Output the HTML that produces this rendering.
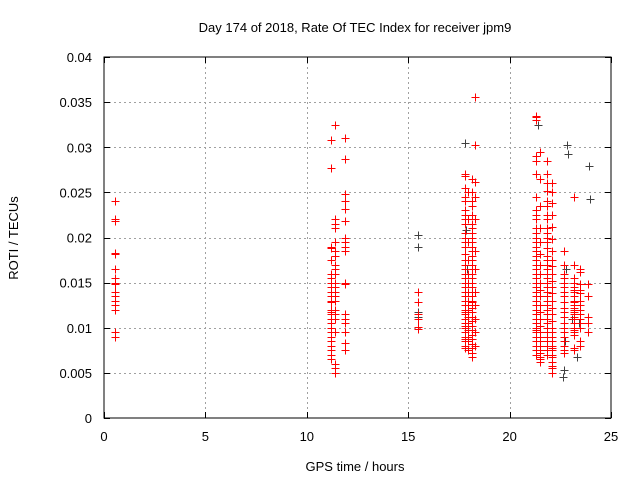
<!DOCTYPE html>
<html><head><meta charset="utf-8"><style>
body{margin:0;background:#fff;}
svg{display:block;font-family:"Liberation Sans",sans-serif;}
</style></head><body>
<svg id="chart" width="640" height="480">
<text x="355" y="32" text-anchor="middle" font-size="13">Day 174 of 2018, Rate Of TEC Index for receiver jpm9</text>
<text x="355" y="471" text-anchor="middle" font-size="13">GPS time / hours</text>
<text transform="translate(18,238) rotate(-90)" text-anchor="middle" font-size="13">ROTI / TECUs</text>
<g id="grid"></g><g id="ticks"></g><g id="pts"></g>
<rect x="104" y="57" width="507" height="361" fill="none" stroke="#000" stroke-width="1"/>
</svg>
<script>
const xTicks=[0,5,10,15,20,25];
const yTicks=[0,0.005,0.01,0.015,0.02,0.025,0.03,0.035,0.04];
const yTickLabels=["0","0.005","0.01","0.015","0.02","0.025","0.03","0.035","0.04"];
// red series (GPS)
const redX=[
0.55,0.55,0.55,0.55,0.55,0.55,0.55,0.55,0.55,0.55,0.55,0.55,0.55,0.55,0.55,0.55,
11.2,11.2,11.2,11.2,11.2,11.2,11.2,11.2,11.2,11.2,11.2,11.2,11.2,11.2,11.2,11.2,11.2,11.2,11.2,11.2,11.2,11.2,11.2,11.2,11.2,11.2,
11.4,11.4,11.4,11.4,11.4,11.4,11.4,11.4,11.4,11.4,11.4,11.4,11.4,11.4,11.4,11.4,11.4,11.4,11.4,11.4,11.4,11.4,
11.9,11.9,11.9,11.9,11.9,11.9,11.9,11.9,11.9,11.9,11.9,11.9,11.9,11.9,11.9,11.9,11.9,11.9,
15.5,15.5,15.5,15.5,15.5,15.5,
17.8,17.8,17.8,17.8,17.8,17.8,17.8,17.8,17.8,17.8,17.8,17.8,17.8,17.8,17.8,17.8,17.8,17.8,17.8,17.8,17.8,17.8,17.8,17.8,17.8,17.8,17.8,17.8,17.8,17.8,17.8,17.8,17.8,17.8,17.8,17.8,17.8,17.8,
17.95,17.95,17.95,17.95,17.95,17.95,17.95,17.95,17.95,17.95,17.95,17.95,17.95,17.95,17.95,17.95,
18.15,18.15,18.15,18.15,18.15,18.15,18.15,18.15,18.15,18.15,18.15,18.15,18.15,18.15,18.15,18.15,18.15,18.15,18.15,18.15,18.15,18.15,18.15,18.15,18.15,18.15,18.15,18.15,18.15,18.15,18.15,18.15,18.15,18.15,18.15,18.15,
18.3,18.3,18.3,18.3,18.3,18.3,18.3,18.3,18.3,18.3,18.3,18.3,
21.3,21.3,21.3,21.3,21.3,21.3,21.3,21.3,21.3,21.3,21.3,21.3,21.3,21.3,21.3,21.3,21.3,21.3,21.3,21.3,21.3,21.3,21.3,21.3,21.3,21.3,21.3,21.3,21.3,21.3,21.3,21.3,21.3,21.3,21.3,21.3,21.3,21.3,21.3,21.3,
21.5,21.5,21.5,21.5,21.5,21.5,21.5,21.5,21.5,21.5,21.5,21.5,21.5,21.5,21.5,21.5,21.5,21.5,21.5,21.5,21.5,21.5,21.5,21.5,
21.85,21.85,21.85,21.85,21.85,21.85,21.85,21.85,21.85,21.85,21.85,21.85,21.85,21.85,21.85,21.85,21.85,21.85,21.85,21.85,21.85,21.85,21.85,21.85,21.85,21.85,21.85,21.85,21.85,21.85,21.85,21.85,21.85,21.85,21.85,21.85,
22.1,22.1,22.1,22.1,22.1,22.1,22.1,22.1,22.1,22.1,22.1,22.1,22.1,22.1,22.1,22.1,22.1,22.1,22.1,22.1,22.1,22.1,22.1,22.1,22.1,22.1,22.1,22.1,22.1,22.1,
22.7,22.7,22.7,22.7,22.7,22.7,22.7,22.7,22.7,22.7,22.7,22.7,22.7,22.7,22.7,22.7,22.7,22.7,22.7,22.7,
23.2,23.2,23.2,23.2,23.2,23.2,23.2,23.2,23.2,23.2,23.2,23.2,23.2,23.2,23.2,23.2,23.2,23.2,23.2,23.2,23.2,23.2,23.2,23.2,
23.45,23.45,23.45,23.45,23.45,23.45,23.45,23.45,23.45,23.45,23.45,23.45,23.45,23.45,
23.85,23.85,23.85,23.85,23.85
];
const redY=[
0.024,0.022,0.0218,0.0183,0.0182,0.0165,0.0155,0.015,0.0148,0.014,0.0135,0.013,0.0125,0.012,0.0095,0.009,
0.0308,0.0277,0.019,0.0188,0.0175,0.016,0.0155,0.015,0.0145,0.014,0.0135,0.013,0.0128,0.012,0.0118,0.0115,0.011,0.0105,0.01,0.0095,0.009,0.0085,0.008,0.0075,0.007,0.0065,
0.0325,0.022,0.0215,0.021,0.0195,0.0185,0.018,0.017,0.0165,0.016,0.015,0.0145,0.014,0.0135,0.013,0.012,0.0115,0.011,0.0095,0.006,0.0055,0.005,
0.031,0.0287,0.0248,0.024,0.0232,0.0218,0.02,0.0195,0.019,0.0185,0.015,0.0148,0.0115,0.011,0.0105,0.0095,0.0083,0.0075,
0.014,0.0128,0.0115,0.011,0.0101,0.0099,
0.027,0.0268,0.0255,0.0245,0.024,0.023,0.0225,0.022,0.0215,0.0205,0.02,0.0195,0.019,0.0182,0.0175,0.017,0.0165,0.016,0.0155,0.015,0.0145,0.014,0.0135,0.013,0.0125,0.012,0.0118,0.0115,0.011,0.0105,0.0102,0.01,0.0095,0.009,0.0088,0.0085,0.008,0.0078,
0.025,0.022,0.0195,0.0175,0.016,0.015,0.014,0.013,0.0125,0.012,0.0112,0.0105,0.0098,0.009,0.0085,0.0075,
0.0265,0.025,0.024,0.0235,0.0225,0.0215,0.021,0.0205,0.02,0.0195,0.019,0.0185,0.018,0.0175,0.017,0.0165,0.016,0.0155,0.015,0.0145,0.014,0.0135,0.013,0.0128,0.0122,0.0118,0.0112,0.0108,0.0102,0.0098,0.0092,0.0088,0.0082,0.0078,0.0072,0.0068,
0.0356,0.0302,0.0262,0.0245,0.022,0.0185,0.0165,0.014,0.0125,0.011,0.0095,0.008,
0.0335,0.0333,0.033,0.029,0.0285,0.027,0.0245,0.023,0.0225,0.022,0.021,0.0205,0.02,0.0195,0.019,0.0185,0.018,0.0175,0.017,0.0165,0.016,0.0155,0.015,0.0145,0.014,0.0135,0.013,0.0125,0.012,0.0115,0.011,0.0105,0.01,0.0098,0.0095,0.009,0.0085,0.008,0.0075,0.007,
0.0295,0.0265,0.0235,0.021,0.0195,0.0182,0.017,0.016,0.015,0.0142,0.0135,0.0125,0.0118,0.011,0.0102,0.0095,0.009,0.0085,0.008,0.0075,0.0072,0.0068,0.0065,0.0062,
0.0285,0.027,0.026,0.0252,0.024,0.0235,0.0225,0.022,0.021,0.0205,0.02,0.0195,0.0188,0.018,0.0175,0.017,0.0165,0.016,0.0155,0.015,0.0145,0.014,0.0135,0.013,0.0125,0.012,0.0115,0.011,0.0105,0.01,0.0095,0.009,0.0085,0.008,0.0075,0.007,
0.026,0.025,0.0238,0.0225,0.0212,0.0198,0.0185,0.0175,0.0168,0.016,0.0152,0.0145,0.0138,0.013,0.0122,0.0115,0.0108,0.01,0.0095,0.009,0.0085,0.008,0.0078,0.0075,0.007,0.0068,0.0062,0.0058,0.0055,0.005,
0.0185,0.017,0.016,0.0155,0.015,0.0145,0.014,0.0135,0.0128,0.0122,0.0118,0.0112,0.0105,0.01,0.0095,0.009,0.0085,0.008,0.0075,0.0072,
0.0245,0.017,0.0155,0.015,0.0145,0.0142,0.014,0.0135,0.013,0.0128,0.0125,0.0122,0.012,0.0118,0.0115,0.0112,0.011,0.0105,0.01,0.0098,0.0095,0.0092,0.0078,0.0075,
0.0165,0.0162,0.0148,0.0142,0.0138,0.013,0.0125,0.012,0.0115,0.011,0.0105,0.01,0.0085,0.008,
0.0148,0.0135,0.0112,0.0105,0.0095
];
// black series (GLONASS)
const blackX=[15.5,15.5,15.5,15.5,17.8,17.85,17.9,21.4,22.65,22.7,22.75,22.8,22.85,22.9,23.1,23.3,23.9,23.95,23.4];
const blackY=[0.0203,0.019,0.0118,0.0112,0.0305,0.0208,0.0165,0.0325,0.0045,0.0053,0.0085,0.0165,0.0303,0.0292,0.011,0.0068,0.0279,0.0243,0.0105];

const X0=104,X1=611,Y0=418,Y1=57;
const sx=v=>X0+(v-0)/(25-0)*(X1-X0);
const sy=v=>Y0-(v-0)/(0.04-0)*(Y0-Y1);
const NS="http://www.w3.org/2000/svg";
function mk(tag,attrs,parent,text){const e=document.createElementNS(NS,tag);for(const k in attrs)e.setAttribute(k,attrs[k]);if(text!==undefined)e.textContent=text;parent.appendChild(e);return e;}
const grid=document.getElementById('grid'),ticks=document.getElementById('ticks'),pts=document.getElementById('pts');
xTicks.forEach((t,i)=>{const x=Math.round(sx(t))+0.5;
 if(i>0&&i<xTicks.length-1){const g=mk('line',{x1:x,x2:x,y1:Y1,y2:Y0,stroke:'#a0a0a0','stroke-dasharray':'2,3'},grid);
 
 }
 const l=mk('line',{x1:x,x2:x,y1:Y0,y2:Y0-6,stroke:'#000'},ticks);
 
 
 const l2=mk('line',{x1:x,x2:x,y1:Y1,y2:Y1+6,stroke:'#000'},ticks);
 
 
 const tx=mk('text',{x:sx(t),y:Y0+23,'text-anchor':'middle','font-size':'13'},ticks,String(t));
 
 
});
yTicks.forEach((t,i)=>{const y=Math.round(sy(t))+0.5;
 if(i>0&&i<yTicks.length-1){const g=mk('line',{x1:X0,x2:X1,y1:y,y2:y,stroke:'#a0a0a0','stroke-dasharray':'2,3'},grid);
 
 }
 const l=mk('line',{x1:X0,x2:X0+6,y1:y,y2:y,stroke:'#000'},ticks);
 
 
 const l2=mk('line',{x1:X1,x2:X1-6,y1:y,y2:y,stroke:'#000'},ticks);
 
 
 const tx=mk('text',{x:X0-12,y:sy(t)+5,'text-anchor':'end','font-size':'13'},ticks,yTickLabels[i]);
 
 
});
function plus(x,y,col,name){const cx=Math.round(sx(x))+0.5,cy=Math.round(sy(y))+0.5;
 const p=mk('path',{d:`M${cx-4} ${cy}H${cx+4}M${cx} ${cy-4}V${cy+4}`,stroke:col,'stroke-width':'1',fill:'none'},pts);
 
 }
blackX.forEach((x,i)=>plus(x,blackY[i],'#404040','glonass-point'));
redX.forEach((x,i)=>plus(x,redY[i],'#ff0000','gps-point'));
</script>
</body></html>
